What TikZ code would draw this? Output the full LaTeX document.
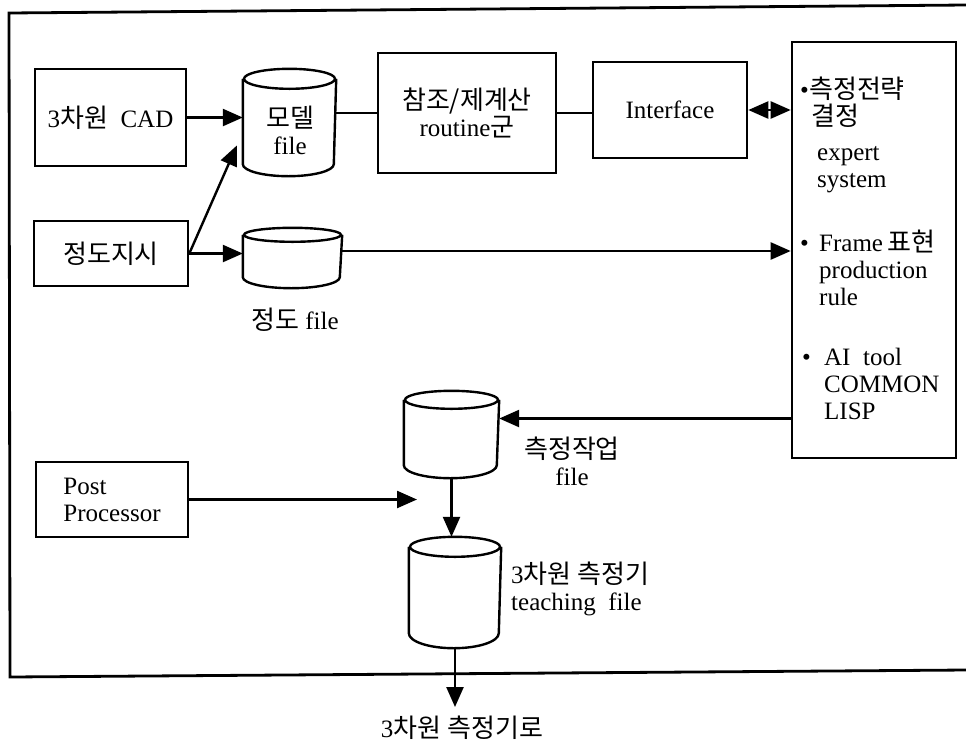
\documentclass[tikz,border=0pt]{standalone}
\usepackage{fontspec}
\setmainfont{Liberation Serif}
\newfontfamily\krfont[Scale=1.04]{Noto Sans CJK KR}
\newcommand{\hg}[1]{{\krfont #1}}
\usetikzlibrary{arrows.meta}

% cylinder outline round a named node: node, half width, top and bottom radius
\newcommand{\drumline}[4]{%
  \draw ([yshift=-#3pt]#1.north) ellipse [x radius=#2pt, y radius=#3pt];
  \draw ([yshift=-#3pt]#1.north west) -- ([yshift=#4pt]#1.south west)
    arc [start angle=180, end angle=360, x radius=#2pt, y radius=#4pt]
    -- ([yshift=-#3pt]#1.north east);}

\begin{document}
\begin{tikzpicture}[x=1pt, y=1pt, line width=2.4pt,
  font=\fontsize{25}{27}\selectfont,
  box/.style={draw, line width=2.6pt, inner sep=0pt, align=center},
  drum/.style={inner sep=0pt},
  txt/.style={inner sep=0pt, align=center},
  arr/.style={-{Triangle[length=20pt,width=17pt]}},
  dbl/.style={{Triangle[length=20pt,width=17pt]}-{Triangle[length=20pt,width=17pt]}}]
\useasboundingbox (0,0) rectangle (966,-748);
% outer frame (open on the right)
\draw[line width=2.8pt] (966,-5) -- (9,-13) -- (10,-677) -- (966,-670);
% boxes
\node[box, minimum width=151pt, minimum height=97pt]  (cad)   at (110.5,-117.5) {3\hg{차원}\ \ CAD};
\node[box, minimum width=154pt, minimum height=65pt]  (prec)  at (111,-253.5)   {\hg{정도지시}};
\node[box, minimum width=178pt, minimum height=120pt] (calc)  at (467,-113)     {\hg{참조/제계산}\\routine\hg{군}};
\node[box, minimum width=154pt, minimum height=96pt]  (iface) at (670,-110)     {Interface};
\node[box, minimum width=164pt, minimum height=416pt] (expert) at (874,-250)    {};
\node[box, minimum width=152pt, minimum height=75pt, align=left] (post) at (112,-499.5) {Post\\Processor};
% files
\node[drum, minimum width=91pt, minimum height=105pt] (model) at (289.5,-122.5) {};
\node[drum, minimum width=97pt, minimum height=58pt]  (precf) at (292.5,-258)   {};
\node[drum, minimum width=93pt, minimum height=85pt]  (acc)   at (451.5,-434.5) {};
\node[drum, minimum width=90pt, minimum height=109pt] (teach) at (455,-592.5)   {};
\drumline{model}{45.5}{10}{12}
\drumline{precf}{48.5}{7}{11}
\drumline{acc}{46.5}{9}{13}
\drumline{teach}{45}{10}{15}
% labels
\node[txt] (modeltx) at (290,-130) {\hg{모델}\\file};
\node[txt] (preclbl) at (295,-320) {\hg{정도} file};
\node[txt] (acclbl)  at (572,-461) {\hg{측정작업}\\file};
\node[txt, align=left, anchor=west] (teachlbl) at (510,-589) {3\hg{차원}\ \hg{측정기}\\teaching\ \ file};
\node[txt] (out) at (462,-728) {3\hg{차원}\ \hg{측정기로}};
% text in the expert box
\node[txt, align=left, anchor=north west] (g1) at (799,-76)
  {\makebox[9pt][l]{\textbullet}\hg{측정전략}\\\hspace*{11pt}\hg{결정}\\[8pt]\hspace*{17pt}expert\\\hspace*{17pt}system};
\node[txt, align=left, anchor=north west] (g2) at (799,-229)
  {\makebox[19pt][l]{\textbullet}Frame\,\hg{표현}\\\hspace*{19pt}production\\\hspace*{19pt}rule};
\node[txt, align=left, anchor=north west] (g3) at (801,-347)
  {\makebox[22pt][l]{\textbullet}AI\ \ tool\\\hspace*{22pt}COMMON\\\hspace*{22pt}LISP};
% connectors
\coordinate (precin) at ([yshift=7pt]precf.east);
\coordinate (accin)  at ([yshift=16pt]acc.east);
\coordinate (posttip) at (417,-499.5);
\coordinate (outtip) at (455,-707);
\draw[arr] (cad.east) -- (cad.east -| model.west);
\draw[arr] (prec.east) -- ([shift={(-6,-23)}]model.west);
\draw[arr] (prec.east) -- (prec.east -| precf.west);
\draw (calc.west -| model.east) -- (calc.west);
\draw (calc.east) -- (calc.east -| iface.west);
\draw[dbl] (iface.east) -- (iface.east -| expert.west);
\draw[arr] (precin) -- (precin -| expert.west);
\draw[arr] (accin -| expert.west) -- (accin);
\draw[arr] (post.east) -- (posttip);
\draw[arr] (acc.south) -- (acc.south |- teach.north);
\draw[arr] (teach.south) -- (outtip);
\end{tikzpicture}
\end{document}
